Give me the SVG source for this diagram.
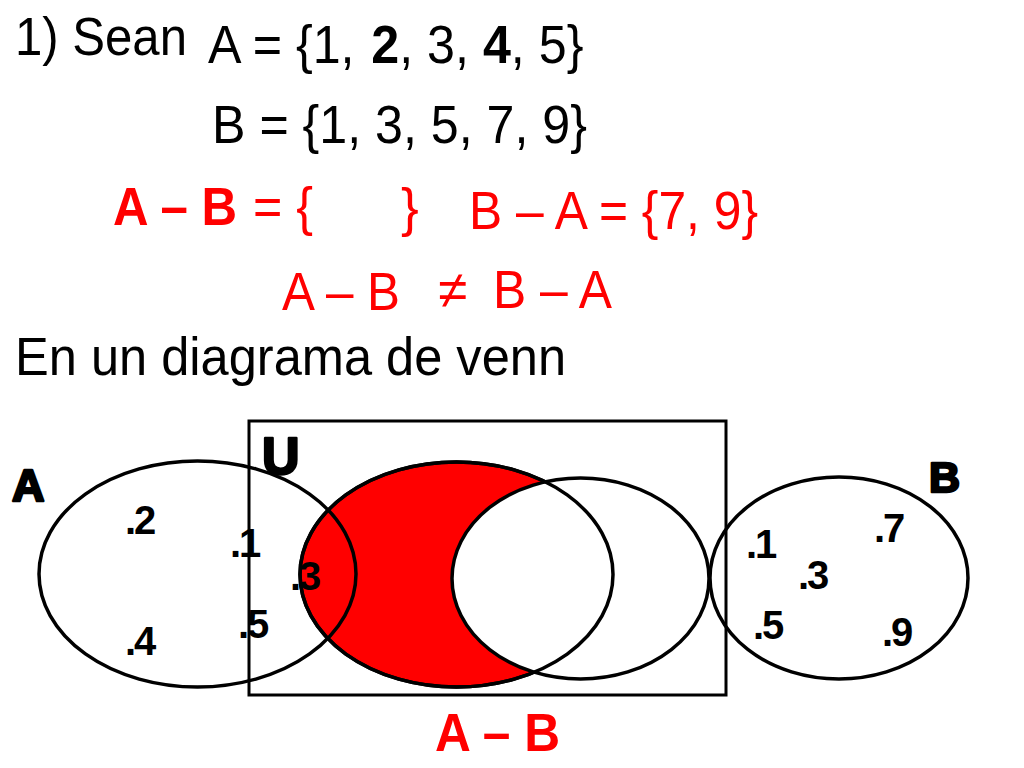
<svg xmlns="http://www.w3.org/2000/svg" width="1024" height="768" viewBox="0 0 1024 768">
<style>
.t{font-family:"Liberation Sans",Arial,sans-serif;font-size:53px;fill:#000}
.r{fill:#FF0000}
.b{font-weight:bold}
.lbl{font-family:"Liberation Sans",Arial,sans-serif;font-weight:bold;fill:#000;stroke:#000;stroke-width:2.5;stroke-linejoin:round}
.num{font-family:"Liberation Sans",Arial,sans-serif;font-weight:bold;font-size:40px;fill:#000;letter-spacing:-2px}
.ol{fill:none;stroke:#000;stroke-width:3.5}
</style>
<rect width="1024" height="768" fill="#fff"/>
<g id="text-top">
<text class="t" x="15" y="55" textLength="172" lengthAdjust="spacingAndGlyphs">1) Sean</text>
<g transform="translate(208,63) scale(0.947,1)">
<text class="t" x="0" y="0">A = {1, </text>
<text class="t b" x="172.4" y="0">2</text>
<text class="t" x="201.9" y="0">, 3, </text>
<text class="t b" x="290.3" y="0">4</text>
<text class="t" x="319.8" y="0">, 5}</text>
</g>
<text class="t" x="212" y="143" textLength="375" lengthAdjust="spacingAndGlyphs">B = {1, 3, 5, 7, 9}</text>
<text class="t r b" x="113" y="225" textLength="124" lengthAdjust="spacingAndGlyphs">A – B</text>
<text class="t r" x="253" y="225" textLength="60" lengthAdjust="spacingAndGlyphs">= {</text>
<text class="t r" x="401" y="226">}</text>
<text class="t r" x="469" y="229" textLength="289" lengthAdjust="spacingAndGlyphs">B – A = {7, 9}</text>
<text class="t r" x="282" y="310" textLength="118" lengthAdjust="spacingAndGlyphs">A – B</text>
<text class="t r" x="438" y="308">≠</text>
<text class="t r" x="493" y="308" textLength="119" lengthAdjust="spacingAndGlyphs">B – A</text>
<text class="t" x="15" y="375" textLength="551" lengthAdjust="spacingAndGlyphs">En un diagrama de venn</text>
</g>
<g id="universe">
<rect x="249" y="421" width="477" height="274" fill="none" stroke="#000" stroke-width="3"/>
<text class="lbl" x="262" y="474" font-size="52">U</text>
</g>
<g id="venn-difference">
<ellipse cx="456.5" cy="574.5" rx="156.5" ry="112.5" fill="#FF0000" stroke="#000" stroke-width="3.5"/>
<ellipse cx="580.5" cy="578.5" rx="128.5" ry="100.5" fill="#fff" stroke="#000" stroke-width="3.5"/>
<ellipse class="ol" cx="456.5" cy="574.5" rx="156.5" ry="112.5"/>
</g>
<g id="set-A">
<ellipse class="ol" cx="197.5" cy="574" rx="158.5" ry="113"/>
<text class="lbl" x="12" y="501" font-size="45">A</text>
<text class="num" x="125" y="534">.2</text>
<text class="num" x="230" y="557">.1</text>
<text class="num" x="290" y="590">.3</text>
<text class="num" x="238" y="638">.5</text>
<text class="num" x="125" y="655">.4</text>
</g>
<g id="set-B">
<ellipse class="ol" cx="839" cy="578" rx="129" ry="101"/>
<text class="lbl" x="929" y="492" font-size="43">B</text>
<text class="num" x="746" y="558">.1</text>
<text class="num" x="798" y="589">.3</text>
<text class="num" x="753" y="639">.5</text>
<text class="num" x="874" y="542">.7</text>
<text class="num" x="882" y="646">.9</text>
</g>
<g id="caption">
<text class="t r b" x="435" y="751" textLength="125" lengthAdjust="spacingAndGlyphs">A – B</text>
</g>
</svg>
